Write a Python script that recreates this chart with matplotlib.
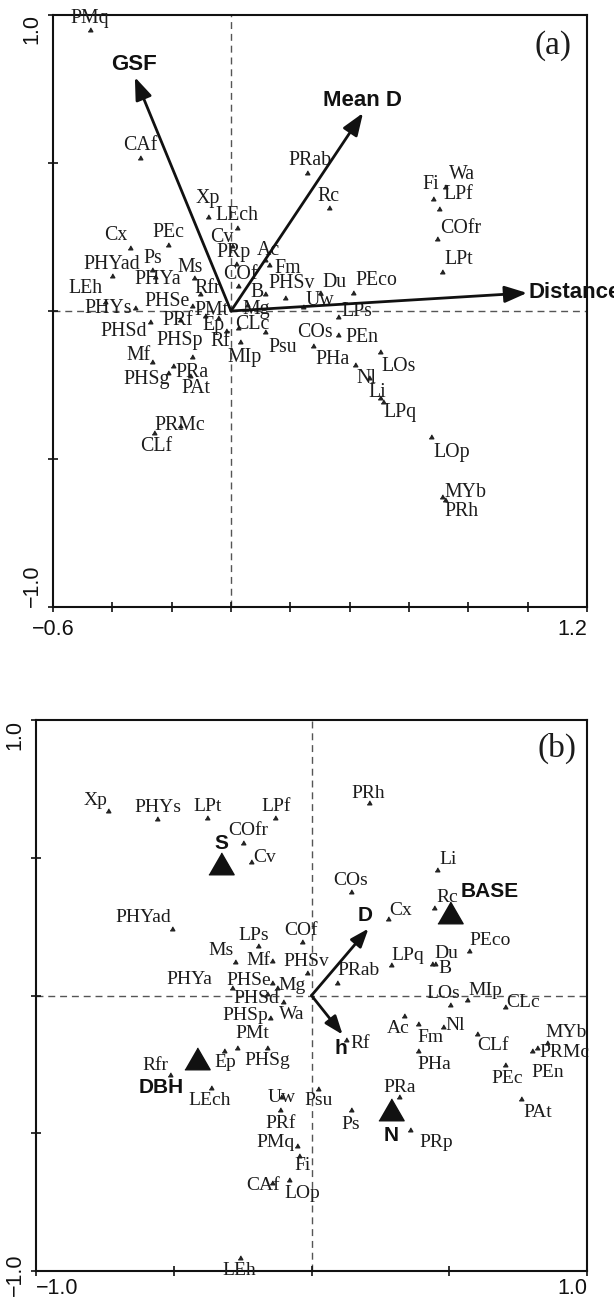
import numpy as np
import matplotlib
matplotlib.use("Agg")
import matplotlib.pyplot as plt
from matplotlib import transforms

plt.rcParams["font.family"] = ["Liberation Sans", "DejaVu Sans"]

# species codes (same order for both ordinations)
SPECIES = [
    "PMq", "CAf", "Xp", "LEch", "Cv", "PRp", "Ac", "Fm", "COf", "Ms",
    "Ps", "PHYad", "PHYa", "Cx", "PEc", "LEh", "PHYs", "PHSe", "Rfr", "PMt",
    "B", "PHSv", "Mg", "Du", "PEco", "Uw", "LPs", "Ep", "PRf", "CLc",
    "Psu", "PHSd", "PHSp", "Rf", "MIp", "Mf", "PRa", "PHSg", "PAt", "PRMc",
    "CLf", "COs", "PEn", "PHa", "LOs", "Nl", "Li", "LPq", "LOp", "MYb",
    "PRh", "PRab", "Rc", "Fi", "Wa", "LPf", "COfr", "LPt",
]

# panel (a) species scores
A_X = [
    -0.475, -0.307, -0.078, 0.020, 0.003, 0.017, 0.115, 0.128, 0.024, -0.125,
    -0.266, -0.401, -0.256, -0.340, -0.212, -0.425, -0.324, -0.131, -0.104, -0.088,
    0.115, 0.182, 0.054, 0.300, 0.411, 0.243, 0.361, -0.044, -0.172, 0.024,
    0.115, -0.273, -0.131, -0.017, 0.030, -0.266, -0.195, -0.212, -0.138, -0.172,
    -0.260, 0.276, 0.361, 0.418, 0.502, 0.465, 0.502, 0.512, 0.674, 0.711,
    0.721, 0.256, 0.330, 0.681, 0.721, 0.701, 0.694, 0.711,
]
A_Y = [
    0.949, 0.517, 0.318, 0.280, 0.220, 0.159, 0.172, 0.155, 0.084, 0.111,
    0.139, 0.118, 0.115, 0.213, 0.223, 0.030, 0.010, 0.017, 0.057, -0.017,
    0.057, 0.044, 0.020, 0.061, 0.061, 0.014, -0.020, -0.024, -0.030, -0.057,
    -0.071, -0.037, -0.155, -0.068, -0.105, -0.172, -0.186, -0.209, -0.220, -0.389,
    -0.412, -0.118, -0.081, -0.182, -0.139, -0.226, -0.294, -0.307, -0.426, -0.628,
    -0.639, 0.466, 0.348, 0.378, 0.419, 0.345, 0.243, 0.132,
]

# panel (b) species scores
B_X = [
    -0.054, -0.145, -0.740, -0.363, -0.218, 0.356, 0.334, 0.385, -0.033, -0.279,
    0.145, -0.505, -0.290, 0.276, 0.704, -0.258, -0.559, -0.145, -0.512, -0.269,
    0.450, -0.015, -0.127, 0.439, 0.573, -0.109, -0.196, -0.316, -0.116, 0.701,
    0.022, -0.160, -0.149, 0.127, 0.566, -0.145, 0.319, -0.160, 0.762, 0.820,
    0.599, 0.142, 0.799, 0.385, 0.501, 0.479, 0.457, 0.287, -0.080, 0.853,
    0.207, 0.091, 0.446, -0.044, -0.105, -0.134, -0.250, -0.381,
]
B_Y = [
    -0.548, -0.679, 0.668, -0.334, 0.483, -0.490, -0.076, -0.102, 0.196, 0.120,
    -0.414, 0.243, 0.029, 0.276, -0.254, -0.951, 0.639, 0.047, -0.287, -0.192,
    0.116, 0.083, 0.029, 0.116, 0.160, -0.370, 0.178, -0.200, -0.414, -0.040,
    -0.338, 0.007, -0.080, -0.160, -0.015, 0.127, -0.367, -0.192, -0.374, -0.189,
    -0.138, 0.377, -0.203, -0.203, -0.033, -0.116, 0.454, 0.109, -0.668, -0.171,
    0.697, 0.047, 0.316, -0.581, -0.025, 0.646, 0.552, 0.646,
]

# environmental variables
A_ENV = ["GSF", "Mean D", "Distance"]
A_ENV_X = [-0.324, 0.445, 0.998]
A_ENV_Y = [0.790, 0.669, 0.061]

B_ARROWS = ["D", "h"]
B_ARROW_X = [0.207, 0.113]
B_ARROW_Y = [0.243, -0.142]

B_CLASSES = ["S", "BASE", "DBH", "N"]
B_CLASS_X = [-0.327, 0.501, -0.417, 0.290]
B_CLASS_Y = [0.468, 0.290, -0.243, -0.425]

# label placement (pixel offsets from the point)
OFF_A = {
    "PMq": (0, 12), "CAf": (0, 12), "Xp": (0, 18), "LEch": (0, 13), "Cv": (-10, 8),
    "PRp": (-2, 11), "Ac": (3, 10), "Fm": (19, -3), "COf": (2, 12), "Ms": (-4, 11),
    "Ps": (1, 11), "PHYad": (0, 12), "PHYa": (3, -3), "Cx": (-14, 12), "PEc": (0, 12),
    "LEh": (-19, 14), "PHYs": (-27, 0), "PHSe": (-25, 4), "Rfr": (8, 6), "PMt": (7, 6),
    "B": (-8, 2), "PHSv": (7, 14), "Mg": (9, -4), "Du": (14, 10), "PEco": (23, 12),
    "Uw": (17, 6), "LPs": (19, 5), "Ep": (-4, -7), "PRf": (-2, -1), "CLc": (14, 3),
    "Psu": (18, -15), "PHSd": (-26, -10), "PHSp": (-12, 16), "Rf": (-6, -10),
    "MIp": (5, -15), "Mf": (-14, 6), "PRa": (19, -6), "PHSg": (-21, -7), "PAt": (6, -12),
    "PRMc": (0, 1), "CLf": (2, -14), "COs": (2, 13), "PEn": (24, -3), "PHa": (-22, 5),
    "LOs": (19, -14), "Nl": (-3, -1), "Li": (-3, 6), "LPq": (17, -11), "LOp": (21, -15),
    "MYb": (23, 4), "PRh": (17, -11), "PRab": (3, 13), "Rc": (0, 11), "Fi": (-2, 15),
    "Wa": (17, 12), "LPf": (19, 14), "COfr": (24, 11), "LPt": (17, 12),
}
OFF_B = {
    "Xp": (-12, 11), "PHYs": (0, 12), "LPt": (1, 11), "LPf": (1, 11), "COfr": (6, 13),
    "Cv": (13, 5), "PHYad": (-29, 11), "LPs": (-4, 11), "COf": (-1, 11), "Ms": (-14, 12),
    "Mf": (-13, 0), "PHSv": (-1, 11), "PHYa": (-42, 8), "PHSe": (-23, 2), "Mg": (16, 2),
    "PHSd": (-11, -5), "Wa": (9, -12), "PHSp": (-25, 2), "PMt": (15, 15), "PHSg": (0, -12),
    "Ep": (1, -12), "Rfr": (-15, 9), "LEch": (-2, -13), "Uw": (0, 0), "PRf": (1, -14),
    "PMq": (-21, 4), "Fi": (3, -10), "CAf": (-8, -3), "LOp": (13, -14), "LEh": (-1, -13),
    "PRh": (0, 10), "Li": (11, 11), "COs": (0, 11), "Rc": (13, 11), "Cx": (13, 9),
    "PEco": (21, 11), "Du": (14, 10), "B": (9, -5), "LPq": (17, 10), "PRab": (22, 12),
    "LOs": (-6, 11), "MIp": (18, 9), "CLc": (18, 4), "Ac": (-5, -12), "Fm": (13, -14),
    "Nl": (12, 2), "CLf": (16, -12), "MYb": (20, 10), "PRMc": (27, -5), "PEn": (16, -21),
    "PEc": (2, -13), "PHa": (17, -13), "Rf": (14, -4), "Psu": (1, -12), "PRa": (0, 9),
    "Ps": (-1, -15), "PRp": (27, -12), "PAt": (16, -14),
}
OFF_A_ENV = {"GSF": (-1, 13), "Mean D": (-1, 12), "Distance": (1, 0)}
OFF_B_ENV = {"D": (-3, 13), "h": (-2, -14), "S": (0, 23), "BASE": (40, 24),
             "DBH": (-35, -25), "N": (0, -23)}

TRI = [(-1, -0.577), (1, -0.577), (0, 1.155)]
SERIF = ["Liberation Serif", "DejaVu Serif"]
TXT = "#1c1c1c"


def setup_axes(ax, xlim, xticks, xlabels, yticks, ylabels, xpad):
    ax.set_xlim(*xlim)
    ax.set_ylim(-1, 1)
    ax.axvline(0, color="#555555", lw=1, dashes=(5, 3.5), zorder=1)
    ax.axhline(0, color="#555555", lw=1, dashes=(5, 3.5), zorder=1)
    ax.set_xticks(xticks, labels=xlabels)
    ax.set_yticks(yticks, labels=ylabels, rotation=90)
    ax.tick_params(direction="inout", length=7, width=1.2, labelsize=15.5,
                   colors="#111111")
    ax.tick_params(axis="x", pad=xpad)
    ax.tick_params(axis="y", pad=4)
    for s in ax.spines.values():
        s.set_linewidth(1.5)
        s.set_color("#111111")


def shift(label, dx, dy):
    # nudge a tick label by a few pixels
    label.set_transform(label.get_transform() +
                        transforms.ScaledTranslation(dx / 100, dy / 100, fig.dpi_scale_trans))


def draw_species(ax, xs, ys, offsets, size):
    ax.plot(xs, ys, ls="none", marker=TRI, ms=3.8, color="#222222", zorder=3)
    for name, x, y in zip(SPECIES, xs, ys):
        dx, dy = offsets.get(name, (0, 11))
        ax.annotate(name, (x, y), xytext=(dx, dy), textcoords="offset pixels",
                    ha="center", va="center", fontsize=size, family=SERIF,
                    color=TXT, zorder=4)


def draw_arrow(ax, x, y, scale):
    ax.annotate("", xy=(x, y), xytext=(0, 0),
                arrowprops=dict(arrowstyle="-|>,head_length=0.8,head_width=0.3",
                                color="#111111", lw=2, mutation_scale=scale,
                                shrinkA=0, shrinkB=0), zorder=5)


fig = plt.figure(figsize=(6.14, 12.99), dpi=100)

# ---- panel (a) ----
ax_a = fig.add_axes([53 / 614, 1 - 607 / 1299, 534 / 614, 592 / 1299])
xt = np.round(np.arange(-0.6, 1.201, 0.2), 1)
setup_axes(ax_a, (-0.6, 1.2), xt, ["\u22120.6"] + [""] * (len(xt) - 2) + ["1.2"],
           [-1, -0.5, 0, 0.5, 1], ["\u22121.0", "", "", "", "1.0"], xpad=5)
xl = ax_a.get_xticklabels()
xl[-1].set_ha("right")
yl = ax_a.get_yticklabels()
yl[0].set_va("bottom")
shift(yl[-1], 0, -7)
draw_species(ax_a, A_X, A_Y, OFF_A, 14.3)
for name, x, y in zip(A_ENV, A_ENV_X, A_ENV_Y):
    draw_arrow(ax_a, x, y, 17)
    dx, dy = OFF_A_ENV[name]
    ax_a.annotate(name, (x, y), xytext=(dx, dy), textcoords="offset pixels",
                  ha="left" if name == "Distance" else "center", va="center",
                  fontsize=16, fontweight="bold", color="#111111",
                  annotation_clip=False, zorder=6)
ax_a.text(0.936, 0.949, "(a)", transform=ax_a.transAxes, ha="center", va="center",
          fontsize=24, family=SERIF, color=TXT)

# ---- panel (b) ----
ax_b = fig.add_axes([36 / 614, 1 - 1271 / 1299, 551 / 614, 551 / 1299])
setup_axes(ax_b, (-1, 1), [-1, -0.5, 0, 0.5, 1], ["\u22121.0", "", "", "", "1.0"],
           [-1, -0.5, 0, 0.5, 1], ["\u22121.0", "", "", "", "1.0"], xpad=1.5)
xl = ax_b.get_xticklabels()
xl[0].set_ha("left")
xl[-1].set_ha("right")
yl = ax_b.get_yticklabels()
yl[-1].set_va("top")
shift(yl[0], 0, 10)
draw_species(ax_b, B_X, B_Y, OFF_B, 14)
for name, x, y in zip(B_ARROWS, B_ARROW_X, B_ARROW_Y):
    draw_arrow(ax_b, x, y, 14)
    dx, dy = OFF_B_ENV[name]
    ax_b.annotate(name, (x, y), xytext=(dx, dy), textcoords="offset pixels",
                  ha="center", va="center", fontsize=15, fontweight="bold",
                  color="#111111", zorder=6)
ax_b.plot(B_CLASS_X, B_CLASS_Y, ls="none", marker=TRI, ms=21, color="#111111", zorder=5)
for name, x, y in zip(B_CLASSES, B_CLASS_X, B_CLASS_Y):
    dx, dy = OFF_B_ENV[name]
    ax_b.annotate(name, (x, y), xytext=(dx, dy), textcoords="offset pixels",
                  ha="center", va="center", fontsize=15, fontweight="bold",
                  color="#111111", zorder=6)
ax_b.text(0.946, 0.949, "(b)", transform=ax_b.transAxes, ha="center", va="center",
          fontsize=24, family=SERIF, color=TXT)

fig.savefig("out.png", dpi=100)
